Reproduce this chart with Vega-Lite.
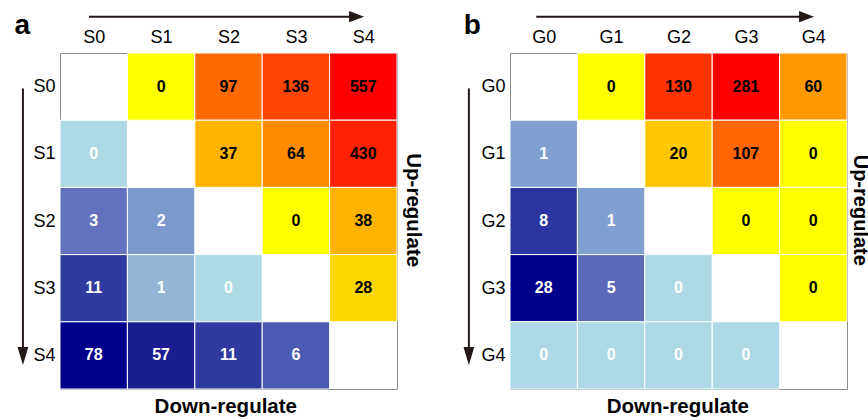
{
  "$schema": "https://vega.github.io/schema/vega-lite/v6.json",
  "padding": {"left": 13, "top": 10, "right": 0, "bottom": 0},
  "background": "white",
  "config": {
    "view": {"stroke": "#8c8c8c", "strokeWidth": 1},
    "font": "Liberation Sans",
    "text": {"font": "Liberation Sans"}
  },
  "datasets": {
    "a": [
      {"row": 0, "col": 1, "value": 0, "dir": "up"},
      {"row": 0, "col": 2, "value": 97, "dir": "up"},
      {"row": 0, "col": 3, "value": 136, "dir": "up"},
      {"row": 0, "col": 4, "value": 557, "dir": "up"},
      {"row": 1, "col": 2, "value": 37, "dir": "up"},
      {"row": 1, "col": 3, "value": 64, "dir": "up"},
      {"row": 1, "col": 4, "value": 430, "dir": "up"},
      {"row": 2, "col": 3, "value": 0, "dir": "up"},
      {"row": 2, "col": 4, "value": 38, "dir": "up"},
      {"row": 3, "col": 4, "value": 28, "dir": "up"},
      {"row": 1, "col": 0, "value": 0, "dir": "down"},
      {"row": 2, "col": 0, "value": 3, "dir": "down"},
      {"row": 2, "col": 1, "value": 2, "dir": "down"},
      {"row": 3, "col": 0, "value": 11, "dir": "down"},
      {"row": 3, "col": 1, "value": 1, "dir": "down"},
      {"row": 3, "col": 2, "value": 0, "dir": "down"},
      {"row": 4, "col": 0, "value": 78, "dir": "down"},
      {"row": 4, "col": 1, "value": 57, "dir": "down"},
      {"row": 4, "col": 2, "value": 11, "dir": "down"},
      {"row": 4, "col": 3, "value": 6, "dir": "down"}
    ],
    "b": [
      {"row": 0, "col": 1, "value": 0, "dir": "up"},
      {"row": 0, "col": 2, "value": 130, "dir": "up"},
      {"row": 0, "col": 3, "value": 281, "dir": "up"},
      {"row": 0, "col": 4, "value": 60, "dir": "up"},
      {"row": 1, "col": 2, "value": 20, "dir": "up"},
      {"row": 1, "col": 3, "value": 107, "dir": "up"},
      {"row": 1, "col": 4, "value": 0, "dir": "up"},
      {"row": 2, "col": 3, "value": 0, "dir": "up"},
      {"row": 2, "col": 4, "value": 0, "dir": "up"},
      {"row": 3, "col": 4, "value": 0, "dir": "up"},
      {"row": 1, "col": 0, "value": 1, "dir": "down"},
      {"row": 2, "col": 0, "value": 8, "dir": "down"},
      {"row": 2, "col": 1, "value": 1, "dir": "down"},
      {"row": 3, "col": 0, "value": 28, "dir": "down"},
      {"row": 3, "col": 1, "value": 5, "dir": "down"},
      {"row": 3, "col": 2, "value": 0, "dir": "down"},
      {"row": 4, "col": 0, "value": 0, "dir": "down"},
      {"row": 4, "col": 1, "value": 0, "dir": "down"},
      {"row": 4, "col": 2, "value": 0, "dir": "down"},
      {"row": 4, "col": 3, "value": 0, "dir": "down"}
    ]
  },
  "bounds": "flush",
  "spacing": 113,
  "hconcat": [
    {
      "width": 337,
      "height": 336,
      "data": {"name": "a"},
      "transform": [
        {"calculate": "datum.col - 0.5", "as": "x0"},
        {"calculate": "datum.col + 0.5", "as": "x1"},
        {"calculate": "datum.row - 0.5", "as": "y0"},
        {"calculate": "datum.row + 0.5", "as": "y1"}
      ],
      "layer": [
        {
          "transform": [{"filter": "datum.dir == 'up'"}],
          "mark": {"type": "rect", "stroke": "white", "strokeWidth": 1},
          "encoding": {
            "x": {"field": "x0", "type": "quantitative", "scale": {"domain": [-0.5, 4.5], "nice": false, "zero": false},
              "axis": {"orient": "top", "values": [0, 1, 2, 3, 4], "labelExpr": "'S' + datum.value", "ticks": false, "domain": false, "grid": false, "title": null, "labelFontSize": 18, "labelColor": "black", "labelFont": "Liberation Sans", "labelPadding": 7}},
            "x2": {"field": "x1"},
            "y": {"field": "y0", "type": "quantitative", "scale": {"domain": [-0.5, 4.5], "nice": false, "zero": false, "reverse": true},
              "axis": {"orient": "left", "values": [0, 1, 2, 3, 4], "labelExpr": "'S' + datum.value", "ticks": false, "domain": false, "grid": false, "title": null, "labelFontSize": 18, "labelColor": "black", "labelFont": "Liberation Sans", "labelPadding": 5}},
            "y2": {"field": "y1"},
            "color": {"field": "value", "type": "quantitative", "legend": null,
              "scale": {"domain": [0, 28, 37, 64, 97, 136, 430, 557], "range": ["#FFFF00", "#FFD700", "#FFB400", "#FF8C00", "#FF6A00", "#FF4500", "#FF2200", "#FF0000"], "interpolate": "rgb"}}
          }
        },
        {
          "transform": [{"filter": "datum.dir == 'down'"}],
          "mark": {"type": "rect", "stroke": "white", "strokeWidth": 1},
          "encoding": {
            "x": {"field": "x0", "type": "quantitative"},
            "x2": {"field": "x1"},
            "y": {"field": "y0", "type": "quantitative"},
            "y2": {"field": "y1"},
            "color": {"field": "value", "type": "quantitative", "legend": null,
              "scale": {"domain": [0, 1, 2, 3, 6, 11, 57, 78], "range": ["#ADD8E6", "#93B5D6", "#7B9ACB", "#6272BE", "#4B5BB2", "#2F3B9F", "#1A1C90", "#00008B"], "interpolate": "rgb"}}
          }
        },
        {
          "mark": {"type": "text", "fontSize": 16, "fontWeight": "bold", "baseline": "middle", "align": "center"},
          "encoding": {
            "x": {"field": "col", "type": "quantitative"},
            "y": {"field": "row", "type": "quantitative"},
            "text": {"field": "value", "type": "quantitative"},
            "color": {"condition": {"test": "datum.dir == 'up'", "value": "black"}, "value": "white"}
          }
        },
        {
          "data": {"values": [{}]},
          "mark": {"type": "rule", "color": "#231815", "strokeWidth": 2},
          "encoding": {"x": {"datum": -0.07}, "x2": {"datum": 3.92}, "y": {"datum": -1.04}}
        },
        {
          "data": {"values": [{}]},
          "mark": {"type": "point", "shape": "M-1,-0.75L1,0L-1,0.75Z", "size": 225, "filled": true, "opacity": 1, "color": "#231815"},
          "encoding": {"x": {"datum": 3.9}, "y": {"datum": -1.04}}
        },
        {
          "data": {"values": [{}]},
          "mark": {"type": "rule", "color": "#231815", "strokeWidth": 2},
          "encoding": {"x": {"datum": -1.05}, "y": {"datum": 0.03}, "y2": {"datum": 4.02}}
        },
        {
          "data": {"values": [{}]},
          "mark": {"type": "point", "shape": "M-0.6,-1L0.6,-1L0,1Z", "size": 324, "filled": true, "opacity": 1, "color": "#231815"},
          "encoding": {"x": {"datum": -1.05}, "y": {"datum": 4.01}}
        },
        {
          "data": {"values": [{}]},
          "mark": {"type": "text", "text": "a", "fontSize": 28, "fontWeight": "bold", "align": "center", "baseline": "alphabetic", "color": "black"},
          "encoding": {"x": {"datum": -1.06}, "y": {"datum": -0.787}}
        },
        {
          "data": {"values": [{}]},
          "mark": {"type": "text", "text": "Up-regulate", "fontSize": 20.5, "fontWeight": "bold", "align": "center", "baseline": "middle", "angle": 90, "color": "black"},
          "encoding": {"x": {"datum": 4.73}, "y": {"datum": 1.84}}
        },
        {
          "data": {"values": [{}]},
          "mark": {"type": "text", "text": "Down-regulate", "fontSize": 20.5, "fontWeight": "bold", "align": "center", "baseline": "alphabetic", "color": "black"},
          "encoding": {"x": {"datum": 1.96}, "y": {"datum": 4.86}}
        }
      ],
      "resolve": {"scale": {"color": "independent"}}
    },
    {
      "width": 337,
      "height": 336,
      "data": {"name": "b"},
      "transform": [
        {"calculate": "datum.col - 0.5", "as": "x0"},
        {"calculate": "datum.col + 0.5", "as": "x1"},
        {"calculate": "datum.row - 0.5", "as": "y0"},
        {"calculate": "datum.row + 0.5", "as": "y1"}
      ],
      "layer": [
        {
          "transform": [{"filter": "datum.dir == 'up'"}],
          "mark": {"type": "rect", "stroke": "white", "strokeWidth": 1},
          "encoding": {
            "x": {"field": "x0", "type": "quantitative", "scale": {"domain": [-0.5, 4.5], "nice": false, "zero": false},
              "axis": {"orient": "top", "values": [0, 1, 2, 3, 4], "labelExpr": "'G' + datum.value", "ticks": false, "domain": false, "grid": false, "title": null, "labelFontSize": 18, "labelColor": "black", "labelFont": "Liberation Sans", "labelPadding": 7}},
            "x2": {"field": "x1"},
            "y": {"field": "y0", "type": "quantitative", "scale": {"domain": [-0.5, 4.5], "nice": false, "zero": false, "reverse": true},
              "axis": {"orient": "left", "values": [0, 1, 2, 3, 4], "labelExpr": "'G' + datum.value", "ticks": false, "domain": false, "grid": false, "title": null, "labelFontSize": 18, "labelColor": "black", "labelFont": "Liberation Sans", "labelPadding": 5}},
            "y2": {"field": "y1"},
            "color": {"field": "value", "type": "quantitative", "legend": null,
              "scale": {"domain": [0, 20, 60, 107, 130, 281], "range": ["#FFFF00", "#FFC800", "#FF9900", "#FF6600", "#FF3300", "#FF0000"], "interpolate": "rgb"}}
          }
        },
        {
          "transform": [{"filter": "datum.dir == 'down'"}],
          "mark": {"type": "rect", "stroke": "white", "strokeWidth": 1},
          "encoding": {
            "x": {"field": "x0", "type": "quantitative"},
            "x2": {"field": "x1"},
            "y": {"field": "y0", "type": "quantitative"},
            "y2": {"field": "y1"},
            "color": {"field": "value", "type": "quantitative", "legend": null,
              "scale": {"domain": [0, 1, 5, 8, 28], "range": ["#ADD8E6", "#80A0D0", "#5A6AB8", "#2B35A0", "#00008B"], "interpolate": "rgb"}}
          }
        },
        {
          "mark": {"type": "text", "fontSize": 16, "fontWeight": "bold", "baseline": "middle", "align": "center"},
          "encoding": {
            "x": {"field": "col", "type": "quantitative"},
            "y": {"field": "row", "type": "quantitative"},
            "text": {"field": "value", "type": "quantitative"},
            "color": {"condition": {"test": "datum.dir == 'up'", "value": "black"}, "value": "white"}
          }
        },
        {
          "data": {"values": [{}]},
          "mark": {"type": "rule", "color": "#231815", "strokeWidth": 2},
          "encoding": {"x": {"datum": -0.11}, "x2": {"datum": 3.92}, "y": {"datum": -1.04}}
        },
        {
          "data": {"values": [{}]},
          "mark": {"type": "point", "shape": "M-1,-0.75L1,0L-1,0.75Z", "size": 225, "filled": true, "opacity": 1, "color": "#231815"},
          "encoding": {"x": {"datum": 3.9}, "y": {"datum": -1.04}}
        },
        {
          "data": {"values": [{}]},
          "mark": {"type": "rule", "color": "#231815", "strokeWidth": 2},
          "encoding": {"x": {"datum": -1.11}, "y": {"datum": 0.03}, "y2": {"datum": 4.02}}
        },
        {
          "data": {"values": [{}]},
          "mark": {"type": "point", "shape": "M-0.6,-1L0.6,-1L0,1Z", "size": 324, "filled": true, "opacity": 1, "color": "#231815"},
          "encoding": {"x": {"datum": -1.11}, "y": {"datum": 4.01}}
        },
        {
          "data": {"values": [{}]},
          "mark": {"type": "text", "text": "b", "fontSize": 28, "fontWeight": "bold", "align": "center", "baseline": "alphabetic", "color": "black"},
          "encoding": {"x": {"datum": -1.06}, "y": {"datum": -0.787}}
        },
        {
          "data": {"values": [{}]},
          "mark": {"type": "text", "text": "Up-regulate", "fontSize": 20, "fontWeight": "bold", "align": "center", "baseline": "middle", "angle": 90, "color": "black"},
          "encoding": {"x": {"datum": 4.7}, "y": {"datum": 1.84}}
        },
        {
          "data": {"values": [{}]},
          "mark": {"type": "text", "text": "Down-regulate", "fontSize": 20.5, "fontWeight": "bold", "align": "center", "baseline": "alphabetic", "color": "black"},
          "encoding": {"x": {"datum": 1.99}, "y": {"datum": 4.86}}
        }
      ],
      "resolve": {"scale": {"color": "independent"}}
    }
  ]
}
